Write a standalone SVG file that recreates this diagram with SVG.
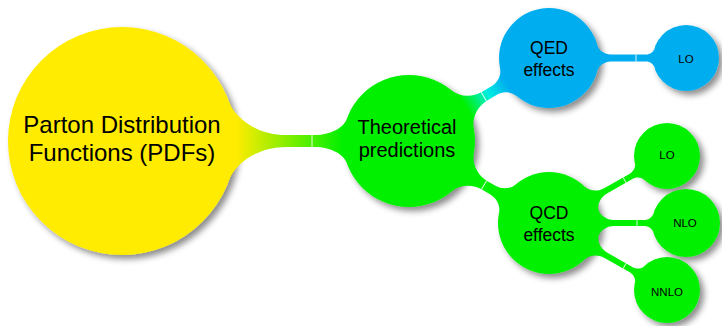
<svg xmlns="http://www.w3.org/2000/svg" width="722" height="326" viewBox="0 0 722 326">
<style>
.t{font-family:"Liberation Sans",Arial,sans-serif;fill:#000;text-anchor:middle}
.big{font-size:24px}.mid{font-size:20px}.med{font-size:17.5px}.sm{font-size:11.5px}
.node{filter:url(#sh)}
.y{fill:#FFEC00}.g{fill:#00F000}.b{fill:#00AEEF}
.seam{stroke:#fff;stroke-width:1;stroke-opacity:0.85}
</style>
<defs>
<filter id="sh" x="-20%" y="-20%" width="140%" height="140%">
<feDropShadow dx="4" dy="4" stdDeviation="3" flood-color="#000" flood-opacity="0.45"/>
</filter>
<linearGradient id="gA" gradientUnits="userSpaceOnUse" x1="114" y1="0" x2="221" y2="0">
<stop offset="0" stop-color="#FFEC00"/><stop offset="1" stop-color="#00F000"/>
</linearGradient>
<linearGradient id="gB" gradientUnits="userSpaceOnUse" x1="66" y1="0" x2="113" y2="0">
<stop offset="0" stop-color="#00F000"/><stop offset="0.55" stop-color="#00EEE0"/><stop offset="1" stop-color="#00AEEF"/>
</linearGradient>
</defs>
<rect width="722" height="326" fill="#fff"/>
<g id="pdfs" class="node"><circle cx="122" cy="141" r="114" class="y"/></g>
<g id="theory" class="node"><circle cx="409" cy="141" r="66" class="g"/></g>
<g id="qed" class="node"><circle cx="549" cy="58" r="50" class="b"/></g>
<g id="qed-lo" class="node"><circle cx="686" cy="58" r="33" class="b"/></g>
<g id="qcd" class="node"><circle cx="549" cy="223" r="51" class="g"/></g>
<g id="qcd-lo" class="node"><circle cx="667" cy="156" r="33" class="g"/></g>
<g id="qcd-nlo" class="node"><circle cx="686" cy="223" r="34" class="g"/></g>
<g id="qcd-nnlo" class="node"><circle cx="667" cy="290" r="33" class="g"/></g>
<g id="connectors">
<g transform="translate(122,141)">
<path fill="url(#gA)" d="M106.75,-40 C113.76,-21.3 136.5,-6 164,-6 L193,-6 C208.4,-6 221.67,-13.2 224.78,-22 L224.78,22 C221.67,13.2 208.4,6 193,6 L164,6 C136.5,6 113.76,21.3 106.75,40 Z"/>
<line class="seam" x1="190" y1="-6" x2="190" y2="6"/>
</g>
<g transform="translate(409,141) rotate(-30.66)">
<path fill="url(#gB)" d="M62.22,-22 C65.53,-12.65 75.9,-5 88,-5 L98.75,-5 C106.45,-5 113.34,-9.95 115.38,-16 L115.38,16 C113.34,9.95 106.45,5 98.75,5 L88,5 C75.9,5 65.53,12.65 62.22,22 Z"/>
<line class="seam" x1="87" y1="-5" x2="87" y2="5"/>
</g>
<g transform="translate(409,141) rotate(30.36)">
<path class="g" d="M62.22,-22 C65.53,-12.65 75.9,-5 88,-5 L97.25,-5 C104.95,-5 111.83,-9.95 113.83,-16 L113.83,16 C111.83,9.95 104.95,5 97.25,5 L88,5 C75.9,5 65.53,12.65 62.22,22 Z"/>
<line class="seam" x1="87" y1="-5" x2="87" y2="5"/>
</g>
<g transform="translate(549,58)">
<path class="b" d="M48.28,-13 C49.69,-7.78 55.4,-3.5 62,-3.5 L97,-3.5 C100.85,-3.5 104.39,-5.98 105.25,-9 L105.25,9 C104.39,5.98 100.85,3.5 97,3.5 L62,3.5 C55.4,3.5 49.69,7.78 48.28,13 Z"/>
<line class="seam" x1="87" y1="-3.5" x2="87" y2="3.5"/>
</g>
<g transform="translate(549,223) rotate(-29.59)">
<path class="g" d="M49.04,-14 C50.77,-7.95 57.3,-3 65,-3 L94.69,-3 C99.09,-3 103,-5.7 103.94,-9 L103.94,9 C103,5.7 99.09,3 94.69,3 L65,3 C57.3,3 50.77,7.95 49.04,14 Z"/>
<line class="seam" x1="87" y1="-3" x2="87" y2="3"/>
</g>
<g transform="translate(549,223)">
<path class="g" d="M49.04,-14 C50.77,-7.95 57.3,-3 65,-3 L95,-3 C99.4,-3 103.3,-5.7 104.21,-9 L104.21,9 C103.3,5.7 99.4,3 95,3 L65,3 C57.3,3 50.77,7.95 49.04,14 Z"/>
<line class="seam" x1="88" y1="-3" x2="88" y2="3"/>
</g>
<g transform="translate(549,223) rotate(29.59)">
<path class="g" d="M49.04,-14 C50.77,-7.95 57.3,-3 65,-3 L94.69,-3 C99.09,-3 103,-5.7 103.94,-9 L103.94,9 C103,5.7 99.09,3 94.69,3 L65,3 C57.3,3 50.77,7.95 49.04,14 Z"/>
<line class="seam" x1="87" y1="-3" x2="87" y2="3"/>
</g>
</g>
<g id="labels">
<text class="t big" x="122" y="133">Parton Distribution</text>
<text class="t big" x="122" y="161">Functions (PDFs)</text>
<text class="t mid" x="407" y="134">Theoretical</text>
<text class="t mid" x="407" y="157">predictions</text>
<text class="t med" x="549" y="54">QED</text>
<text class="t med" x="549" y="76">effects</text>
<text class="t sm" x="686" y="63">LO</text>
<text class="t med" x="549" y="219">QCD</text>
<text class="t med" x="549" y="241">effects</text>
<text class="t sm" x="667" y="159">LO</text>
<text class="t sm" x="685" y="227">NLO</text>
<text class="t sm" x="667" y="296">NNLO</text>
</g>
</svg>
